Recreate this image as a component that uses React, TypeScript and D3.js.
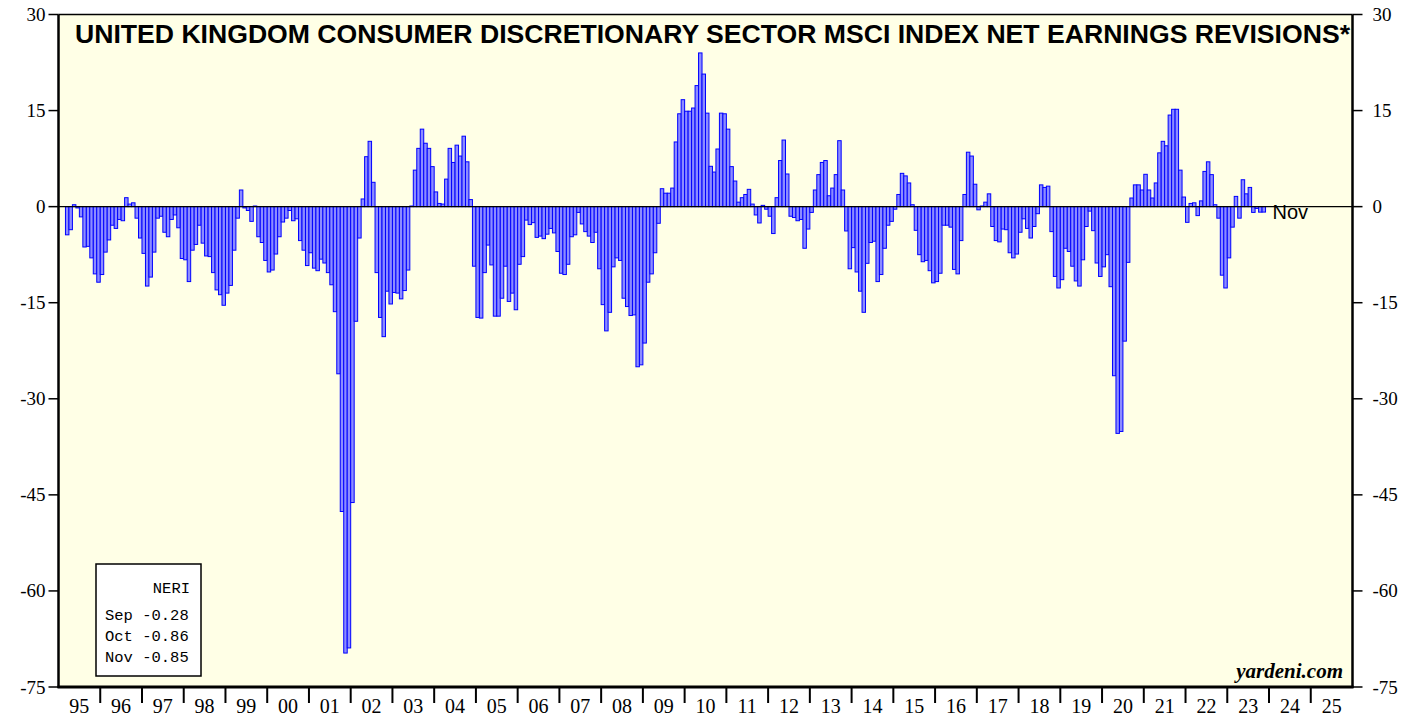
import React, { useEffect } from "react";
import * as d3 from "d3";

// Monthly net earnings revisions (%), data begins March 1995
const FIRST_MONTH_1995 = 2; // 0-based: March
const y1995 = [-4.4, -3.6, 0.3, -0.2, -1.6, -6.3, -6.2, -8.0, -10.5, -11.8];
const y1996 = [-10.6, -7.1, -5.2, -2.9, -3.4, -2.0, -2.2, 1.4, 0.4, 0.6, -1.8, -4.9];
const y1997 = [-7.3, -12.4, -11.0, -7.1, -1.8, -1.5, -4.0, -4.7, -2.0, -1.3, -3.3, -8.1];
const y1998 = [-8.3, -11.7, -6.8, -5.9, -2.9, -5.7, -7.7, -7.8, -10.3, -13.0, -13.75, -15.4];
const y1999 = [-13.5, -12.3, -6.8, -1.8, 2.6, -0.2, -0.6, -2.3, 0.1, -4.7, -5.6, -8.4];
const y2000 = [-10.2, -9.9, -7.4, -4.7, -2.4, -1.8, -0.6, -2.2, -1.9, -5.3, -6.8, -9.2];
const y2001 = [-7.2, -9.6, -10.0, -8.2, -8.8, -10.3, -12.2, -16.4, -26.1, -47.6, -69.7, -68.9];
const y2002 = [-46.2, -17.9, -4.9, 1.2, 7.8, 10.2, 3.8, -10.3, -17.3, -20.3, -13.2, -15.2];
const y2003 = [-13.4, -13.5, -14.4, -13.1, -9.9, 0.1, 5.7, 9.1, 12.1, 9.9, 9.1, 6.25];
const y2004 = [2.3, 0.5, 0.4, 4.3, 9.1, 6.9, 9.6, 7.9, 11.0, 7.0, 1.1, -9.3];
const y2005 = [-17.3, -17.4, -10.3, -6.0, -9.1, -17.1, -17.1, -14.3, -9.3, -14.8, -13.5, -16.1];
const y2006 = [-9.0, -7.8, -2.1, -2.8, -2.5, -4.8, -4.6, -5.0, -4.3, -3.4, -4.1, -7.0];
const y2007 = [-10.4, -10.6, -9.0, -4.7, -4.4, -0.9, -2.7, -3.9, -4.6, -5.6, -4.0, -9.7];
const y2008 = [-15.3, -19.4, -16.5, -9.4, -8.0, -8.4, -14.3, -15.6, -17.0, -16.9, -25.0, -24.7];
const y2009 = [-21.3, -11.8, -10.5, -7.2, -2.6, 2.8, 2.1, 2.1, 2.9, 10.1, 14.5, 16.7];
const y2010 = [14.9, 14.9, 15.4, 18.9, 24.0, 20.7, 14.6, 6.3, 5.4, 9.0, 14.6, 14.5];
const y2011 = [12.1, 6.25, 4.0, 0.7, 1.4, 1.9, 2.7, 0.4, -1.3, -2.55, 0.2, -0.4];
const y2012 = [-1.5, -4.2, 1.4, 7.2, 10.4, 5.1, -1.5, -1.7, -2.2, -2.0, -6.5, -3.5];
const y2013 = [-0.9, 2.6, 5.0, 6.9, 7.2, 1.7, 2.9, 5.0, 10.3, 2.6, -3.8, -9.7];
const y2014 = [-6.4, -10.2, -13.2, -16.5, -8.85, -5.6, -5.4, -11.7, -10.6, -6.5, -2.9, -2.3];
const y2015 = [-0.4, 1.9, 5.2, 4.8, 3.7, 0.3, -3.7, -7.5, -8.6, -8.4, -10.0, -11.9];
const y2016 = [-11.7, -10.4, -2.9, -2.9, -3.2, -9.8, -10.5, -5.3, 1.9, 8.5, 7.9, 3.5];
const y2017 = [-0.5, 0.1, 0.7, 2.0, -3.1, -5.3, -5.5, -3.5, -3.6, -7.2, -8.0, -7.4];
const y2018 = [-4.0, -1.9, -3.4, -4.9, -3.1, -1.1, 3.4, 3.0, 3.2, -3.9, -10.9, -12.7];
const y2019 = [-11.4, -6.5, -7.0, -9.3, -11.6, -12.4, -8.3, -3.1, -0.7, -3.75, -8.8, -10.9];
const y2020 = [-9.4, -7.5, -12.5, -26.4, -35.4, -35.1, -21.0, -8.7, 1.35, 3.4, 3.4, 2.6];
const y2021 = [5.05, 2.6, 1.35, 3.7, 8.4, 10.2, 9.5, 14.3, 15.2, 15.2, 5.7, 1.5];
const y2022 = [-2.45, 0.5, 0.6, -1.4, 0.9, 5.5, 7.0, 5.0, 0.3, -1.8, -10.7, -12.7];
const y2023 = [-8.0, -3.2, 1.6, -1.8, 4.2, 2.0, 3.0, -0.9, -0.28, -0.86, -0.85];

const yearSeries = [
  y1995, y1996, y1997, y1998, y1999, y2000, y2001, y2002, y2003, y2004,
  y2005, y2006, y2007, y2008, y2009, y2010, y2011, y2012, y2013, y2014,
  y2015, y2016, y2017, y2018, y2019, y2020, y2021, y2022, y2023,
];

const yearLabels = [
  "95", "96", "97", "98", "99", "00", "01", "02", "03", "04", "05", "06", "07", "08", "09", "10",
  "11", "12", "13", "14", "15", "16", "17", "18", "19", "20", "21", "22", "23", "24", "25",
];
const yTicks = [30, 15, 0, -15, -30, -45, -60, -75];
const legendTitle = "NERI";
const legendMonths = ["Sep", "Oct", "Nov"];
const legendValues = ["-0.28", "-0.86", "-0.85"];
const lastLabel = "Nov";
const title = "UNITED KINGDOM CONSUMER DISCRETIONARY SECTOR MSCI INDEX NET EARNINGS REVISIONS*";

type Pt = { m: number; v: number };
const data: Pt[] = [];
yearSeries.forEach((arr, yi) => {
  const start = yi === 0 ? FIRST_MONTH_1995 : 0;
  arr.forEach((v, i) => data.push({ m: yi * 12 + start + i, v }));
});

const W = 1419;
const H = 717;
const L = 58.5;
const R = 1352.5;
const T = 14.5;
const B = 687;

export default function App() {
  useEffect(() => {
    document.body.style.margin = "0";
  }, []);

  const x = d3.scaleLinear().domain([0, yearLabels.length * 12]).range([L, R]);
  const y = d3.scaleLinear().domain([-75, 30]).range([B, T]);
  const serif = "'Liberation Serif', 'Times New Roman', serif";
  const sans = "'Liberation Sans', Arial, sans-serif";
  const mono = "'Liberation Mono', 'Courier New', monospace";
  const lastM = data[data.length - 1].m;

  return (
    <svg width={W} height={H} style={{ position: "absolute", left: 0, top: 0, display: "block" }}>
      <rect x={0} y={0} width={W} height={H} fill="#ffffff" />
      <rect x={L} y={T} width={R - L} height={B - T} fill="#ffffe6" />

      {/* bars */}
      <g>
        {data.map((d) => {
          const x0 = x(d.m);
          const x1 = x(d.m + 1);
          const yv = y(d.v);
          const y0 = y(0);
          return (
            <rect
              key={d.m}
              x={x0}
              y={Math.min(yv, y0)}
              width={x1 - x0}
              height={Math.max(Math.abs(yv - y0), 0.3)}
              fill="#8c8cff"
              stroke="#0000ff"
              strokeWidth={1}
            />
          );
        })}
      </g>

      {/* zero line */}
      <line x1={L} x2={R} y1={y(0)} y2={y(0)} stroke="#000" strokeWidth={1.3} />

      {/* title */}
      <text
        x={75}
        y={43}
        fontFamily={sans}
        fontWeight="bold"
        fontSize={25}
        textLength={1275}
        lengthAdjust="spacingAndGlyphs"
        fill="#000"
      >
        {title}
      </text>

      {/* last label */}
      <text x={x(lastM + 1) + 7} y={219} fontFamily={sans} fontSize={20} fill="#000">
        {lastLabel}
      </text>

      {/* frame */}
      <line x1={L} x2={R} y1={T} y2={T} stroke="#000" strokeWidth={1.5} />
      <line x1={L} x2={L} y1={T} y2={B + 1} stroke="#000" strokeWidth={2.5} />
      <line x1={R} x2={R} y1={T} y2={B + 1} stroke="#000" strokeWidth={2.5} />
      <line x1={L - 1} x2={R + 1} y1={B} y2={B} stroke="#000" strokeWidth={3} />

      {/* y ticks & labels */}
      {yTicks.map((t) => (
        <g key={t}>
          <line x1={L - 10} x2={L} y1={y(t)} y2={y(t)} stroke="#000" strokeWidth={1.5} />
          <line x1={R} x2={R + 10} y1={y(t)} y2={y(t)} stroke="#000" strokeWidth={1.5} />
          <text x={L - 13} y={y(t) + 6.5} textAnchor="end" fontFamily={serif} fontSize={19} fill="#000">
            {t}
          </text>
          <text x={R + 20} y={y(t) + 6.5} textAnchor="start" fontFamily={serif} fontSize={19} fill="#000">
            {t}
          </text>
        </g>
      ))}

      {/* x ticks & labels */}
      {yearLabels.map((lab, i) => (
        <g key={lab + i}>
          {i > 0 && (
            <line x1={x(i * 12)} x2={x(i * 12)} y1={B} y2={B + 16} stroke="#000" strokeWidth={2} />
          )}
          <text
            x={x(i * 12 + 6)}
            y={713}
            textAnchor="middle"
            fontFamily={serif}
            fontSize={20}
            fill="#000"
          >
            {lab}
          </text>
        </g>
      ))}

      {/* legend */}
      <rect x={96} y={564} width={105} height={112} fill="#ffffff" stroke="#000" strokeWidth={1.5} />
      <text x={190} y={593} textAnchor="end" fontFamily={mono} fontSize={15.5} fill="#000">
        {legendTitle}
      </text>
      {legendMonths.map((mn, i) => (
        <text key={mn} x={105} y={620 + i * 21} fontFamily={mono} fontSize={15.5} fill="#000" xmlSpace="preserve">
          {mn + " " + legendValues[i]}
        </text>
      ))}

      {/* source */}
      <text
        x={1343}
        y={678}
        textAnchor="end"
        fontFamily={serif}
        fontWeight="bold"
        fontStyle="italic"
        fontSize={21}
        fill="#000"
      >
        yardeni.com
      </text>
    </svg>
  );
}
